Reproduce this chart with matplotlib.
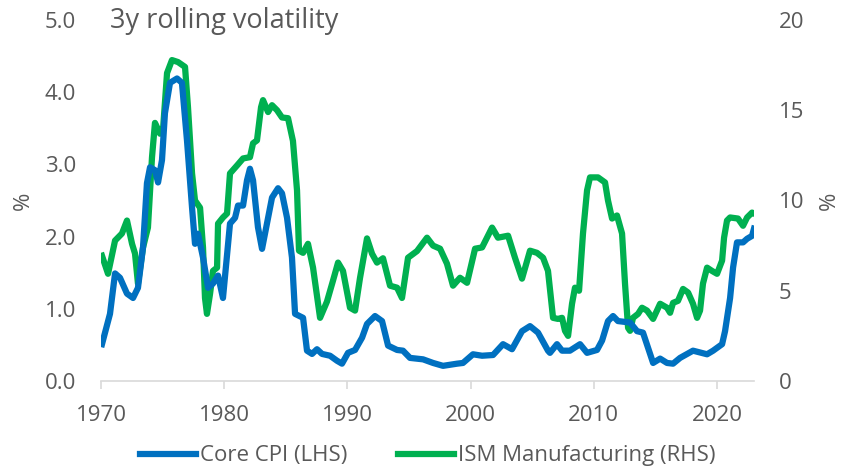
import matplotlib
matplotlib.use("Agg")
import matplotlib.pyplot as plt

plt.rcParams['font.family'] = ['Open Sans', 'DejaVu Sans']

cpi_years = [1970.08, 1970.73, 1971.14, 1971.54, 1972.11, 1972.60, 1973.00, 1973.41, 1973.73, 1973.98,
             1974.38, 1974.63, 1974.95, 1975.19, 1975.60, 1976.17, 1976.57, 1976.98, 1977.39, 1977.63,
             1977.87, 1978.28, 1978.69, 1979.09, 1979.50, 1979.90, 1980.47, 1980.88, 1981.12, 1981.53,
             1981.85, 1982.09, 1982.34, 1982.74, 1983.07, 1983.31, 1983.88, 1984.37, 1984.69, 1985.10,
             1985.50, 1985.75, 1986.40, 1986.72, 1987.13, 1987.53, 1987.94, 1988.59, 1989.16, 1989.56,
             1990.05, 1990.62, 1991.19, 1991.59, 1992.24, 1992.81, 1993.30, 1994.03, 1994.51, 1995.08,
             1996.14, 1996.95, 1997.76, 1998.90, 1999.38, 2000.19, 2000.93, 2001.82, 2002.63, 2003.36,
             2004.17, 2004.82, 2005.47, 2006.28, 2006.44, 2007.01, 2007.42, 2008.06, 2008.88, 2009.45,
             2010.26, 2010.67, 2011.15, 2011.56, 2011.96, 2012.94, 2013.51, 2013.99, 2014.40, 2014.81,
             2015.38, 2015.94, 2016.43, 2017.00, 2018.05, 2019.19, 2019.68, 2020.41, 2020.65, 2021.06,
             2021.30, 2021.62, 2022.11, 2022.44, 2022.84, 2023.00]
cpi_vol = [0.51, 0.93, 1.49, 1.43, 1.21, 1.15, 1.29, 1.85, 2.74, 2.96,
           2.92, 2.75, 3.06, 3.71, 4.13, 4.19, 4.13, 3.33, 2.40, 1.90,
           2.04, 1.71, 1.29, 1.35, 1.46, 1.15, 2.18, 2.26, 2.43, 2.43,
           2.78, 2.94, 2.78, 2.13, 1.83, 2.04, 2.54, 2.67, 2.60, 2.26,
           1.71, 0.93, 0.875, 0.42, 0.375, 0.44, 0.375, 0.35, 0.28, 0.24,
           0.39, 0.43, 0.60, 0.79, 0.90, 0.83, 0.49, 0.43, 0.42, 0.32,
           0.30, 0.25, 0.21, 0.24, 0.25, 0.37, 0.35, 0.36, 0.51, 0.44,
           0.69, 0.76, 0.67, 0.42, 0.39, 0.51, 0.42, 0.42, 0.51, 0.39,
           0.43, 0.56, 0.83, 0.90, 0.83, 0.81, 0.69, 0.67, 0.46, 0.25,
           0.31, 0.25, 0.24, 0.32, 0.42, 0.37, 0.42, 0.51, 0.69, 1.15,
           1.57, 1.92, 1.92, 1.97, 2.01, 2.11]

ism_years = [1970.08, 1970.57, 1971.14, 1971.70, 1972.11, 1972.52, 1972.76, 1973.00, 1973.41, 1973.81,
             1974.14, 1974.38, 1974.79, 1975.03, 1975.36, 1975.76, 1976.25, 1976.82, 1977.06, 1977.39,
             1977.63, 1978.04, 1978.28, 1978.44, 1978.60, 1978.85, 1979.09, 1979.42, 1979.50, 1979.90,
             1980.23, 1980.47, 1981.04, 1981.53, 1982.09, 1982.34, 1982.66, 1982.99, 1983.15, 1983.56,
             1983.88, 1984.29, 1984.69, 1985.18, 1985.58, 1985.91, 1986.07, 1986.40, 1986.80, 1987.21,
             1987.78, 1988.34, 1988.83, 1989.24, 1989.64, 1990.21, 1990.62, 1991.02, 1991.59, 1992.00,
             1992.40, 1992.89, 1993.46, 1994.03, 1994.43, 1994.92, 1995.65, 1996.46, 1996.95, 1997.52,
             1998.08, 1998.57, 1999.14, 1999.71, 2000.36, 2000.93, 2001.74, 2002.22, 2003.04, 2003.60,
             2004.17, 2004.82, 2005.39, 2005.88, 2006.28, 2006.69, 2007.09, 2007.42, 2007.66, 2007.91,
             2008.23, 2008.47, 2008.80, 2009.12, 2009.45, 2009.69, 2010.34, 2010.91, 2011.15, 2011.48,
             2011.88, 2012.29, 2012.53, 2012.78, 2012.94, 2013.18, 2013.59, 2013.91, 2014.32, 2014.81,
             2015.38, 2015.94, 2016.19, 2016.43, 2016.83, 2017.24, 2017.65, 2018.05, 2018.38, 2018.62,
             2018.86, 2019.19, 2019.59, 2020.00, 2020.41, 2020.57, 2020.81, 2021.06, 2021.70, 2022.11,
             2022.44, 2022.84, 2023.00]
ism_vol = [6.94, 5.94, 7.78, 8.17, 8.89, 7.60, 7.06, 5.40, 7.39, 8.50,
           12.4, 14.3, 13.7, 13.9, 17.06, 17.78, 17.67, 17.4, 15.17, 11.5,
           10.0, 9.6, 7.39, 4.6, 3.72, 4.83, 6.1, 6.28, 8.72, 9.06,
           9.28, 11.5, 11.94, 12.33, 12.4, 13.17, 13.33, 15.17, 15.56, 14.9,
           15.28, 15.0, 14.6, 14.56, 13.3, 10.56, 7.22, 7.1, 7.6, 6.28,
           3.5, 4.4, 5.56, 6.56, 6.1, 4.06, 3.9, 5.7, 7.9, 7.05,
           6.56, 6.8, 5.28, 5.17, 4.6, 6.83, 7.2, 7.94, 7.5, 7.33,
           6.5, 5.28, 5.72, 5.44, 7.33, 7.4, 8.5, 7.94, 8.05, 6.83,
           5.67, 7.22, 7.1, 6.83, 6.1, 3.5, 3.44, 3.5, 2.78, 2.5,
           4.28, 5.17, 5.0, 8.17, 10.56, 11.28, 11.28, 11.0, 10.0, 9.0,
           9.17, 8.17, 5.4, 2.94, 2.78, 3.5, 3.72, 4.06, 3.9, 3.44,
           4.28, 4.06, 3.78, 4.33, 4.44, 5.1, 4.9, 4.28, 3.5, 3.9,
           5.4, 6.28, 6.1, 5.94, 6.67, 7.94, 8.89, 9.06, 9.0, 8.6,
           9.06, 9.33, 9.28]

x_ticks = [1970, 1980, 1990, 2000, 2010, 2020]
left_ticks = [0.0, 1.0, 2.0, 3.0, 4.0, 5.0]
right_ticks = [0, 5, 10, 15, 20]

blue = '#0070C0'
green = '#00B050'
grey = '#595959'

fig = plt.figure(figsize=(8.44, 4.72), dpi=100)
ax = fig.add_axes([101/844, 1-381/472, (754-101)/844, 361/472])
ax2 = ax.twinx()

l2, = ax2.plot(ism_years, ism_vol, color=green, lw=4.5, solid_joinstyle='round',
               label='ISM Manufacturing (RHS)')
l1, = ax.plot(cpi_years, cpi_vol, color=blue, lw=4.5, solid_joinstyle='round',
              label='Core CPI (LHS)')
ax.set_zorder(ax2.get_zorder() + 1)
ax.patch.set_visible(False)

ax.set_xlim(1970, 2023)
ax.set_ylim(0, 5)
ax2.set_ylim(0, 20)
ax.set_xticks(x_ticks)
ax.set_yticks(left_ticks)
ax.set_yticklabels([f'{v:.1f}' for v in left_ticks])
ax2.set_yticks(right_ticks)

for a in (ax, ax2):
    for s in a.spines.values():
        s.set_visible(False)
ax.spines['bottom'].set_visible(True)
ax.spines['bottom'].set_color('#d9d9d9')
ax.spines['bottom'].set_linewidth(1.2)

ax.tick_params(axis='x', colors='#d9d9d9', labelcolor=grey, labelsize=16, length=6, width=1.2, pad=11)
ax.tick_params(axis='y', length=0, labelcolor=grey, labelsize=16, pad=18)
ax2.tick_params(axis='y', length=0, labelcolor=grey, labelsize=16, pad=18)

ax.set_ylabel('%', color=grey, fontsize=16, labelpad=8)
ax2.set_ylabel('%', color=grey, fontsize=16, labelpad=10)

fig.text(110/844, 1-21/472, '3y rolling volatility', color=grey, fontsize=19.5,
         ha='left', va='center')

fig.legend([l1, l2], [l1.get_label(), l2.get_label()], loc='center',
           bbox_to_anchor=(428/844, 1-456/472), ncol=2, frameon=False, fontsize=16,
           labelcolor=grey, handlelength=2.5, columnspacing=2.3, handletextpad=0.2)

fig.savefig('out.png', dpi=100)
